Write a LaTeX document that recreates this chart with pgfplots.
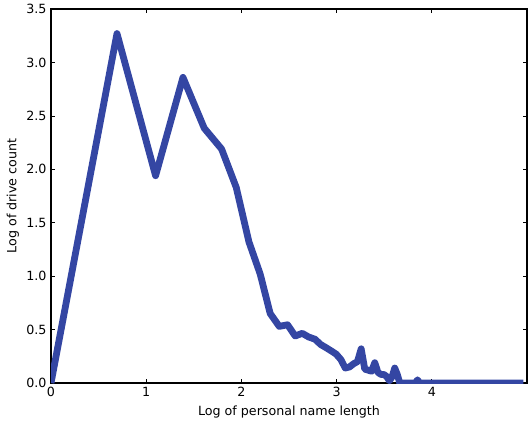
\documentclass[border=0pt]{standalone}
\usepackage{fontspec}
\setmainfont{DejaVu Sans}
\usepackage{pgfplots}
\pgfplotsset{compat=1.18}
\definecolor{lineblue}{RGB}{52,70,163}

\begin{document}
\fontsize{9.5}{11}\selectfont
\begin{tikzpicture}
\begin{axis}[
  scale only axis,
  width=357pt, height=280.5pt,
  xmin=0, xmax=5,
  ymin=0, ymax=3.5,
  xtick={0,1,2,3,4},
  ytick={0,0.5,1,1.5,2,2.5,3,3.5},
  yticklabel style={/pgf/number format/.cd,fixed,fixed zerofill,precision=1},
  /pgf/number format/assume math mode=true,
  tick align=inside,
  major tick length=3pt,
  tick style={black,line width=0.5pt},
  axis line style={black,line width=0.9pt},
  xlabel={Log of personal name length},
  ylabel={Log of drive count},
  xlabel style={at={(rel axis cs:0.5,0)}, anchor=center, yshift=-22pt},
  ylabel style={at={(rel axis cs:0,0.5)}, anchor=center, yshift=28.5pt},
  tick label style={font=\fontsize{9.5}{11}\selectfont},
  label style={font=\fontsize{9.5}{11}\selectfont},
  clip=true,
]
\addplot[lineblue, line width=5.1pt, line join=round] coordinates {
  (0.0000,0.00)
  (0.6931,3.27)
  (1.0986,1.94)
  (1.3863,2.86)
  (1.6094,2.385)
  (1.7918,2.19)
  (1.9459,1.83)
  (2.0794,1.32)
  (2.1972,1.02)
  (2.3026,0.65)
  (2.3979,0.53)
  (2.4849,0.545)
  (2.5649,0.44)
  (2.6391,0.465)
  (2.7081,0.43)
  (2.7726,0.41)
  (2.8332,0.36)
  (2.8904,0.33)
  (2.9444,0.30)
  (2.9957,0.27)
  (3.0445,0.22)
  (3.0910,0.14)
  (3.1355,0.15)
  (3.1781,0.18)
  (3.2189,0.20)
  (3.2581,0.32)
  (3.2958,0.13)
  (3.3322,0.12)
  (3.3673,0.11)
  (3.4012,0.19)
  (3.4340,0.10)
  (3.4657,0.08)
  (3.4965,0.08)
  (3.5264,0.06)
  (3.5553,0.02)
  (3.5835,0.06)
  (3.6109,0.14)
  (3.6376,0.08)
  (3.6636,0.00)
  (3.8286,0.00)
  (3.8501,0.03)
  (3.8712,0.00)
  (4.9628,0.00)
};
\end{axis}
\path (current axis.south west) ++(-38.25pt,-30pt);
\path (current axis.north east) ++(2.25pt,5.25pt);
\end{tikzpicture}
\end{document}
